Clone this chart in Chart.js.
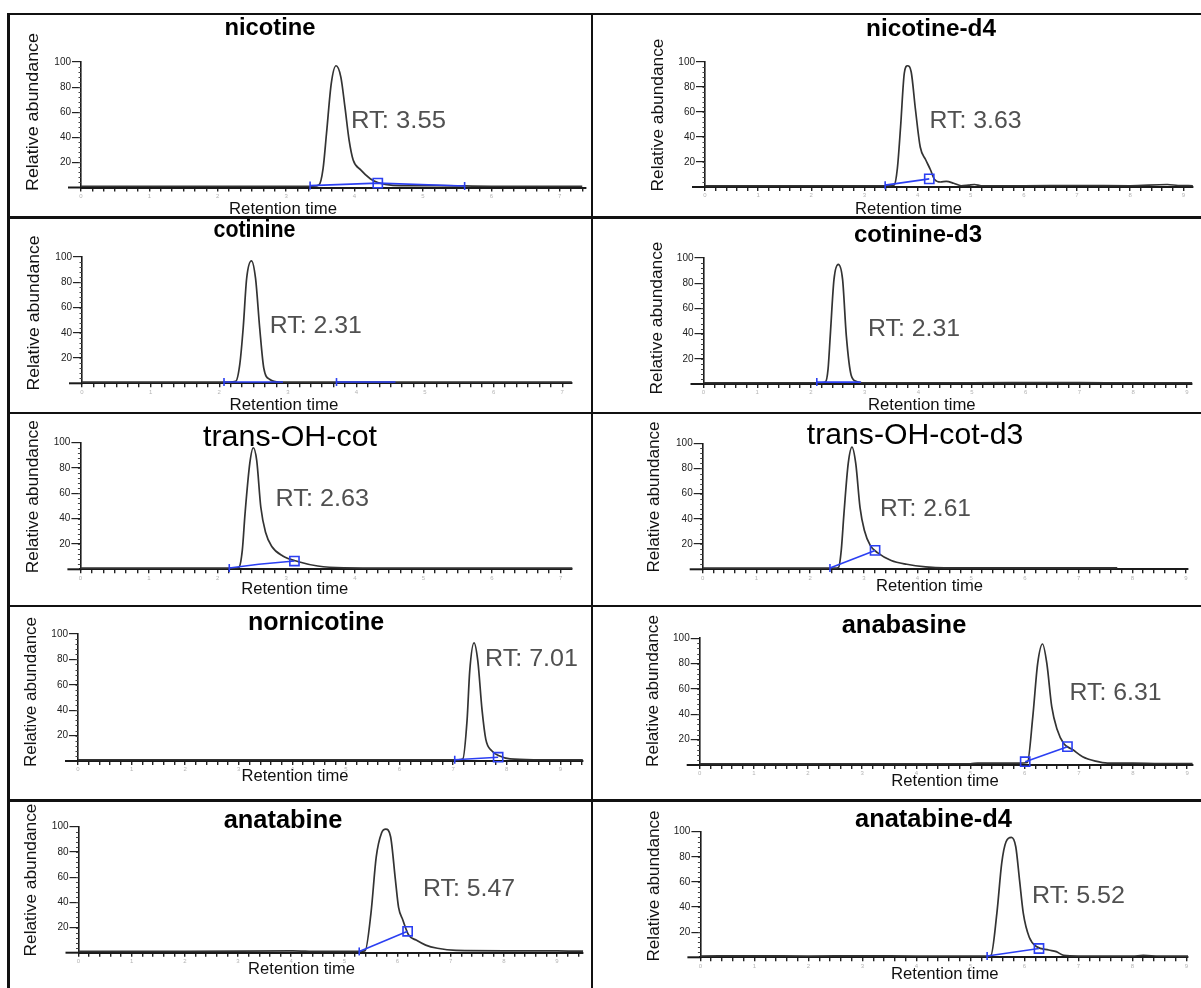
<!DOCTYPE html>
<html><head><meta charset="utf-8">
<script src="https://cdn.jsdelivr.net/npm/chart.js@4.4.1/dist/chart.umd.min.js"></script>
<style>
html,body{margin:0;padding:0;background:#fff;}
body{width:1201px;height:988px;position:relative;overflow:hidden;font-family:"Liberation Sans",Arial,sans-serif;}
.cell{position:absolute;}
.ln{position:absolute;background:#111;}
</style></head><body>
<script>
// ---------------- DATA ----------------
const panelNames = ['nicotine','nicotine-d4','cotinine','cotinine-d3','trans-OH-cot','trans-OH-cot-d3','nornicotine','anabasine','anatabine','anatabine-d4'];
const rtLabels = ['RT: 3.55','RT: 3.63','RT: 2.31','RT: 2.31','RT: 2.63','RT: 2.61','RT: 7.01','RT: 6.31','RT: 5.47','RT: 5.52'];
const yAxisTitle = 'Relative abundance';
const xAxisTitle = 'Retention time';
const yTickValues = [20, 40, 60, 80, 100];
const xTickLabels7 = [0, 1, 2, 3, 4, 5, 6, 7];
const xTickLabels9 = [0, 1, 2, 3, 4, 5, 6, 7, 8, 9];

const nicotineTime  = [0, 1.5, 3.0, 3.40, 3.48, 3.54, 3.59, 3.66, 3.73, 3.80, 3.86, 3.92, 3.98, 4.09, 4.23, 4.34, 4.45, 4.68, 5.2, 6.0, 7.33];
const nicotineAbund = [1, 1, 1, 1, 2, 15, 43, 83, 97, 88, 64, 38, 22, 14, 7, 4, 2.5, 1.5, 1.5, 1, 1];
const nicotineIntTime  = [3.35, 4.34, 5.61];
const nicotineIntAbund = [1.5, 3.5, 1.2];

const nicotineD4Time  = [0, 2, 3.5, 3.56, 3.62, 3.68, 3.75, 3.81, 3.88, 3.96, 4.05, 4.15, 4.24, 4.32, 4.43, 4.54, 4.68, 4.82, 4.96, 5.07, 5.2, 6.0, 7.0, 8.0, 8.7, 8.9, 9.18];
const nicotineD4Abund = [1, 1, 1, 1.5, 15, 48, 91, 97, 92, 62, 32, 22, 14, 6, 4, 4.5, 3, 1, 1.5, 2, 1, 1, 1.2, 1, 2, 1.2, 1];
const nicotineD4IntTime  = [3.39, 4.22];
const nicotineD4IntAbund = [1.5, 6.5];

const cotinineTime  = [0, 1.5, 2.15, 2.24, 2.30, 2.35, 2.40, 2.47, 2.53, 2.59, 2.65, 2.74, 2.88, 3.2, 5, 7.14];
const cotinineAbund = [1, 1, 1, 1.5, 15, 44, 83, 97, 83, 44, 12, 3, 1, 1, 1, 1];
const cotinineIntTime  = [2.07, 2.93, 3.3, 3.71, 4.57];
const cotinineIntAbund = [1, 1, null, 1, 1];

const cotinineD3Time  = [0, 1.5, 2.2, 2.27, 2.32, 2.36, 2.43, 2.51, 2.59, 2.66, 2.75, 2.85, 2.95, 3.5, 5, 6.5, 7.5, 8.5, 9.1];
const cotinineD3Abund = [1, 1, 1, 1.5, 12, 38, 83, 95, 83, 38, 7, 2, 1, 1, 1, 1.2, 1, 1, 1];
const cotinineD3IntTime  = [2.11, 2.93];
const cotinineD3IntAbund = [1.5, 1.5];

const transOHcotTime  = [0, 1.5, 2.25, 2.31, 2.36, 2.40, 2.47, 2.52, 2.57, 2.63, 2.70, 2.79, 2.95, 3.18, 3.46, 3.84, 4.5, 7.17];
const transOHcotAbund = [1, 1, 1, 1.5, 15, 44, 84, 96, 86, 49, 29, 18, 10.5, 6, 2.6, 1.2, 1, 1];
const transOHcotIntTime  = [2.17, 2.6, 3.12];
const transOHcotIntAbund = [1, 4, 6.5];

const transOHcotD3Time  = [0, 2, 2.47, 2.53, 2.58, 2.63, 2.71, 2.78, 2.85, 2.93, 3.01, 3.12, 3.26, 3.51, 3.80, 4.15, 4.5, 6, 7.72];
const transOHcotD3Abund = [1, 1, 1, 1.5, 15, 44, 84, 97, 84, 49, 31, 19, 13, 7, 4, 2, 1.2, 1.2, 1.2];
const transOHcotD3IntTime  = [2.37, 3.21];
const transOHcotD3IntAbund = [1, 15];

const nornicotineTime  = [0, 2, 4, 6, 7.1, 7.18, 7.26, 7.31, 7.39, 7.46, 7.54, 7.61, 7.72, 7.87, 8.06, 8.5, 9.42];
const nornicotineAbund = [1, 1, 1, 1, 1, 1.5, 32, 71, 93, 79, 40, 17, 8, 4, 1.6, 1, 1];
const nornicotineIntTime  = [7.03, 7.84];
const nornicotineIntAbund = [1, 3];

const anabasineTime  = [0, 1, 2, 3, 4, 5, 5.13, 5.5, 5.9, 6.05, 6.15, 6.24, 6.33, 6.41, 6.50, 6.60, 6.72, 6.89, 7.07, 7.31, 7.53, 8, 8.5, 9.1];
const anabasineAbund = [1, 1, 1, 1, 1, 1, 1.5, 1.5, 1.5, 2, 38, 80, 95.5, 80, 46, 28, 17, 12, 6.5, 3, 1.5, 1.5, 1.2, 1.2];
const anabasineIntTime  = [6.01, 6.79];
const anabasineIntAbund = [2.6, 14.5];

const anatabineTime  = [0, 2, 4.03, 4.5, 5.2, 5.39, 5.50, 5.60, 5.70, 5.78, 5.87, 5.96, 6.02, 6.10, 6.21, 6.35, 6.53, 6.75, 7.10, 8, 9, 9.49];
const anatabineAbund = [1, 1, 1.5, 1, 1, 1.5, 31, 76, 95, 98, 92, 58, 36, 26, 14, 10, 6, 3.5, 1.8, 1.5, 1.5, 1.2];
const anatabineIntTime  = [5.28, 6.19];
const anatabineIntAbund = [1, 17];

const anatabineD4Time  = [0, 1, 2, 3, 4, 5, 5.3, 5.38, 5.49, 5.58, 5.66, 5.76, 5.84, 5.91, 5.98, 6.09, 6.23, 6.45, 6.59, 6.73, 7, 8, 8.2, 8.5, 9.03];
const anatabineD4Abund = [1, 1.2, 1, 1.2, 1, 1, 1, 1.5, 35, 75, 92, 95.5, 88, 61.5, 35, 16, 8.4, 5.8, 4.5, 1.5, 1, 1, 1.5, 1, 1];
const anatabineD4IntTime  = [5.31, 6.27];
const anatabineD4IntAbund = [1, 7];

const traces = [
  [nicotineTime, nicotineAbund, nicotineIntTime, nicotineIntAbund],
  [nicotineD4Time, nicotineD4Abund, nicotineD4IntTime, nicotineD4IntAbund],
  [cotinineTime, cotinineAbund, cotinineIntTime, cotinineIntAbund],
  [cotinineD3Time, cotinineD3Abund, cotinineD3IntTime, cotinineD3IntAbund],
  [transOHcotTime, transOHcotAbund, transOHcotIntTime, transOHcotIntAbund],
  [transOHcotD3Time, transOHcotD3Abund, transOHcotD3IntTime, transOHcotD3IntAbund],
  [nornicotineTime, nornicotineAbund, nornicotineIntTime, nornicotineIntAbund],
  [anabasineTime, anabasineAbund, anabasineIntTime, anabasineIntAbund],
  [anatabineTime, anatabineAbund, anatabineIntTime, anatabineIntAbund],
  [anatabineD4Time, anatabineD4Abund, anatabineD4IntTime, anatabineD4IntAbund]
];

// ---------------- LAYOUT (positions / styles only) ----------------
const colX = [[10, 581], [593, 608]];
const rowY = [[15, 216], [219, 412], [414, 605], [607, 799], [802, 988]];
const FONT = '"Liberation Sans", Arial, sans-serif';
const layout = [
  {col:0,row:0, ax:81,   xe:587,  y100:62,    y0:187.5, sp:68.6, tpu:6, lab:xTickLabels7, mk:'tbt',
   ti:[270,26,91,'bold',24], rt:[351,119,95], xt:[283,208,108], yt:[31.6,112,158]},
  {col:1,row:0, ax:705,  xe:1198, y100:62,    y0:187,   sp:53.7, tpu:5, lab:xTickLabels9, mk:'tb',
   ti:[931,27,130,'bold',24], rt:[929.6,119,92], xt:[908.6,208,107], yt:[656.5,115,153]},
  {col:0,row:1, ax:82,   xe:572,  y100:257,   y0:383.3, sp:68.6, tpu:6, lab:xTickLabels7, mk:'tnntn',
   ti:[254.5,229,82,'bold',23], rt:[269.8,324,92], xt:[284,404,109], yt:[32.5,313,155]},
  {col:1,row:1, ax:703.5,xe:1192, y100:258,   y0:384,   sp:53.7, tpu:5, lab:xTickLabels9, mk:'tn',
   ti:[918,233,128,'bold',24], rt:[868,327,92], xt:[921.8,404,107.6], yt:[656,318,153]},
  {col:0,row:2, ax:80.4, xe:572,  y100:442.7, y0:569.3, sp:68.6, tpu:6, lab:xTickLabels7, mk:'tnb',
   ti:[290,436,174,'normal',29], rt:[275.5,497,93.5], xt:[294.7,588,107], yt:[31.6,496.7,153]},
  {col:1,row:2, ax:702.7,xe:1188, y100:443.3, y0:569.3, sp:53.7, tpu:5, lab:xTickLabels9, mk:'tb',
   ti:[915,434,216.5,'normal',29], rt:[880,507,91], xt:[929.5,585,107], yt:[652.7,497,151]},
  {col:0,row:3, ax:78,   xe:583,  y100:634,   y0:761,   sp:53.6, tpu:5, lab:xTickLabels9, mk:'tb',
   ti:[316,621,0,'bold',25], rt:[485,657,93], xt:[295,775,107], yt:[30,692,150]},
  {col:1,row:3, ax:699.7,xe:1196, y100:638.3, y0:765,   sp:54.5, tpu:5, lab:xTickLabels9, mk:'bb',
   ti:[904,624,124.6,'bold',25], rt:[1069.5,691,92], xt:[945,780,107.6], yt:[652,691,152]},
  {col:0,row:4, ax:78.5, xe:587,  y100:826.7, y0:952.7, sp:53.6, tpu:5, lab:xTickLabels9, mk:'tb',
   ti:[283,819,118.6,'bold',25], rt:[423,887,92], xt:[301.6,968,107], yt:[29.7,880,153]},
  {col:1,row:4, ax:700.4,xe:1188, y100:831.7, y0:957.3, sp:54,   tpu:5, lab:xTickLabels9, mk:'tb',
   ti:[933.5,817.5,157,'bold',25], rt:[1032,894,93], xt:[944.8,973,107.6], yt:[652.7,886,151]}
];

// ---------------- frame lines ----------------
const lines = [
  [7,13,3,975],[7,13,1194,2],[591,13,2,975],
  [7,216,1194,3],[7,412,1194,2],[7,605,1194,2],[7,799,1194,3]
];
lines.forEach(([l,t,w,h]) => {
  const d = document.createElement('div'); d.className = 'ln';
  d.style.cssText = `left:${l}px;top:${t}px;width:${w}px;height:${h}px;`;
  document.body.appendChild(d);
});

function fitText(ctx, txt, cx, cy, weight, size, w, color, rot) {
  ctx.save();
  ctx.font = `${weight} ${size}px ${FONT}`;
  ctx.fillStyle = color; ctx.textAlign = 'center'; ctx.textBaseline = 'alphabetic';
  const m = ctx.measureText(txt).width;
  ctx.translate(cx, cy);
  if (rot) ctx.rotate(rot);
  if (w) ctx.scale(w / m, 1);
  ctx.fillText(txt, 0, size * 0.36);
  ctx.restore();
}
function leftText(ctx, txt, x, cy, size, w, color) {
  ctx.save();
  ctx.font = `normal ${size}px ${FONT}`;
  ctx.fillStyle = color; ctx.textAlign = 'left'; ctx.textBaseline = 'alphabetic';
  const m = ctx.measureText(txt).width;
  ctx.translate(x, cy);
  if (w) ctx.scale(w / m, 1);
  ctx.fillText(txt, 0, size * 0.36);
  ctx.restore();
}

const overlay = {
  id: 'overlay',
  afterDraw(chart, args, o) {
    const ctx = chart.ctx, ca = chart.chartArea, L = o.L, ox = o.ox, oy = o.oy, i = o.i;
    const ys = chart.scales.y;
    ctx.save();
    ctx.strokeStyle = '#1a1a1a'; ctx.lineWidth = 2;
    ctx.beginPath(); ctx.moveTo(ca.left - 13, ca.bottom); ctx.lineTo(ca.left, ca.bottom); ctx.stroke();
    ctx.strokeStyle = '#444'; ctx.lineWidth = 1;
    ctx.beginPath();
    for (let v = 4; v < 100; v += 4) {
      const py = Math.round(ys.getPixelForValue(v)) + 0.5;
      ctx.moveTo(ca.left - 2.5, py); ctx.lineTo(ca.left, py);
    }
    ctx.stroke();
    ctx.restore();
    fitText(ctx, panelNames[i], L.ti[0] - ox, L.ti[1] - oy, L.ti[3], L.ti[4], L.ti[2], '#000', 0);
    leftText(ctx, rtLabels[i], L.rt[0] - ox, L.rt[1] - oy, 24, L.rt[2], '#505050');
    fitText(ctx, xAxisTitle, L.xt[0] - ox, L.xt[1] - oy, 'normal', 16, L.xt[2], '#111', 0);
    fitText(ctx, yAxisTitle, L.yt[0] - ox, L.yt[1] - oy, 'normal', 17, L.yt[2], '#111', -Math.PI / 2);
  }
};

layout.forEach((L, i) => {
  const [cx0, cw] = colX[L.col];
  const [cy0, cy1] = rowY[L.row];
  const ch = cy1 - cy0;
  const div = document.createElement('div');
  div.className = 'cell';
  div.style.cssText = `left:${cx0}px;top:${cy0}px;width:${cw}px;height:${ch}px;`;
  const cv = document.createElement('canvas');
  cv.width = cw; cv.height = ch;
  cv.style.width = cw + 'px'; cv.style.height = ch + 'px';
  div.appendChild(cv); document.body.appendChild(div);

  const [tT, tA, iT, iA] = traces[i];
  const tMax = (L.xe - L.ax) / L.sp;
  const labelMax = L.lab[L.lab.length - 1];
  const minor = [];
  for (let j = 0; j / L.tpu <= tMax + 1e-9; j++) minor.push(j / L.tpu);

  const styles = { t: ['line', 90, 4], b: ['rect', 0, 6.5], n: ['circle', 0, 0] };
  const mk = L.mk.split('').map(c => styles[c]);

  new Chart(cv, {
    type: 'line',
    data: {
      datasets: [
        {
          data: iT.map((t, k) => ({ x: t, y: iA[k] })),
          borderColor: '#2b3ff2', borderWidth: 1.6, tension: 0, spanGaps: false,
          pointStyle: mk.map(m => m[0]), rotation: mk.map(m => m[1]), pointRadius: mk.map(m => m[2]),
          pointBorderColor: '#2b3ff2', pointBackgroundColor: 'rgba(0,0,0,0)', pointBorderWidth: 1.6,
          clip: false, order: 0
        },
        {
          data: tT.map((t, k) => ({ x: t, y: tA[k] })),
          borderColor: '#333', borderWidth: 1.7, pointRadius: 0,
          cubicInterpolationMode: 'monotone', clip: false, order: 1
        }
      ]
    },
    options: {
      responsive: false, animation: false, devicePixelRatio: 1, events: [],
      layout: { padding: { left: 0, top: L.y100 - cy0, right: cx0 + cw - L.xe, bottom: 0 } },
      plugins: { legend: { display: false }, tooltip: { enabled: false }, title: { display: false },
                 overlay: { L, ox: cx0, oy: cy0, i } },
      scales: {
        x: {
          type: 'linear', min: 0, max: tMax,
          afterBuildTicks: s => { s.ticks = minor.map(v => ({ value: v })); },
          afterFit: s => { s.height = cy1 - L.y0; },
          ticks: {
            autoSkip: false, maxRotation: 0, minRotation: 0, padding: 1,
            font: { size: 6, family: FONT }, color: '#b4b4b4',
            callback: v => { const r = Math.round(v); return (Math.abs(v - r) < 1e-6 && r <= labelMax) ? String(r) : ''; }
          },
          grid: { display: true, drawOnChartArea: false, drawTicks: true, tickLength: 4, color: '#222', lineWidth: 1.4 },
          border: { display: true, color: '#1a1a1a', width: 2 }
        },
        y: {
          min: 0, max: 100,
          afterBuildTicks: s => { s.ticks = yTickValues.map(v => ({ value: v })); },
          afterFit: s => { s.width = L.ax - cx0; },
          ticks: { font: { size: 10, family: FONT }, color: '#222', padding: 1 },
          grid: { display: true, drawOnChartArea: false, drawTicks: true, tickLength: 9, color: '#222', lineWidth: 1.2 },
          border: { display: true, color: '#1a1a1a', width: 1.6 }
        }
      }
    },
    plugins: [overlay]
  });
});
</script>
</body></html>
